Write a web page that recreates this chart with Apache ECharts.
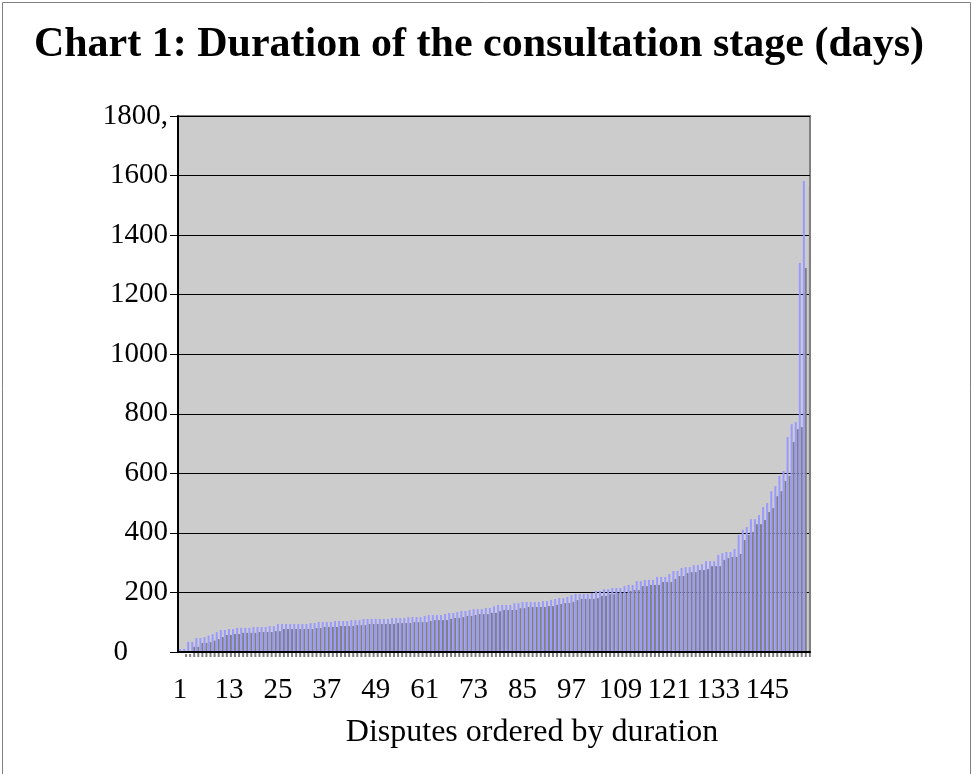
<!DOCTYPE html>
<html>
<head>
<meta charset="utf-8">
<title>Duration of the consultation stage</title>
<script src="https://cdn.jsdelivr.net/npm/echarts@6/dist/echarts.min.js"></script>
<style>
  html, body { margin: 0; padding: 0; background: #fff; }
  #chart { width: 974px; height: 774px; }
</style>
</head>
<body>
<div id="chart"></div>
<script>
const FONT = "'Liberation Serif','Times New Roman',serif";

// one slot per dispute on the axis; the last slot carries no bar
const disputeCount = 155;
const categories = Array.from({ length: disputeCount }, (_, i) => String(i + 1));

// consultation stage length in days, disputes sorted by duration
const durations = [
  10, 10, 34, 34, 47, 47, 50, 55, 60, 67,
  74, 74, 77, 77, 81, 81, 81, 81, 84, 84,
  84, 84, 87, 87, 94, 94, 94, 94, 94, 94,
  94, 94, 97, 97, 101, 101, 101, 101, 104, 104,
  104, 104, 107, 107, 107, 111, 111, 111, 111, 111,
  111, 111, 114, 114, 114, 114, 117, 117, 117, 117,
  121, 124, 124, 124, 124, 128, 131, 131, 134, 138,
  138, 141, 144, 144, 144, 148, 148, 154, 158, 158,
  158, 158, 164, 164, 168, 168, 168, 168, 168, 171,
  171, 175, 178, 181, 181, 185, 191, 195, 195, 195,
  195, 198, 205, 205, 211, 211, 215, 215, 215, 222,
  225, 225, 238, 238, 242, 242, 242, 252, 252, 252,
  262, 272, 272, 282, 285, 285, 292, 292, 295, 305,
  305, 305, 326, 332, 336, 336, 346, 393, 410, 420,
  446, 446, 460, 487, 500, 540, 557, 591, 608, 722,
  765, 772, 1306, 1582
];

const yTicks = { min: 0, max: 1800, step: 200 };

const chart = echarts.init(document.getElementById('chart'));

chart.setOption({
  animation: false,
  textStyle: { fontFamily: FONT, color: '#000' },
  title: [
    {
      text: 'Chart 1: Duration of the consultation stage (days)',
      left: 474, top: 19, textAlign: 'center',
      textStyle: { fontFamily: FONT, fontSize: 42, fontWeight: 'bold', color: '#000' }
    },
    {
      text: 'Disputes ordered by duration',
      left: 527, top: 712, textAlign: 'center',
      textStyle: { fontFamily: FONT, fontSize: 32, fontWeight: 'normal', color: '#000' }
    }
  ],
  graphic: [
    {
      type: 'rect', silent: true, z: -10,
      shape: { x: 2.5, y: 2.5, width: 968, height: 800 },
      style: { fill: 'none', stroke: '#808080', lineWidth: 1 }
    }
  ],
  grid: {
    left: 178, right: 164, top: 116, bottom: 122,
    show: true, backgroundColor: '#cccccc',
    borderColor: '#808080', borderWidth: 2
  },
  xAxis: {
    type: 'category',
    data: categories,
    z: 3,
    axisLine: { lineStyle: { color: '#000', width: 2 } },
    axisTick: {
      interval: 0, length: 8,
      lineStyle: { color: '#000', width: 1, shadowColor: '#808080', shadowOffsetX: 2, shadowBlur: 0 }
    },
    axisLabel: {
      interval: 11, margin: 24,
      fontFamily: FONT, fontSize: 29, color: '#000'
    },
    splitLine: { show: false }
  },
  yAxis: {
    type: 'value',
    min: yTicks.min, max: yTicks.max, interval: yTicks.step,
    z: 1,
    axisLine: { show: true, lineStyle: { color: '#000', width: 2 } },
    axisTick: { show: true, length: 8, lineStyle: { color: '#000', width: 1 } },
    axisLabel: {
      margin: 10, fontFamily: FONT, fontSize: 29, color: '#000',
      formatter: v => v === 0 ? '{zero|0}' : (v === 1800 ? '1800,' : String(v)),
      rich: { zero: { fontFamily: FONT, fontSize: 29, color: '#000', padding: [0, 40, 0, 0] } }
    },
    splitLine: { lineStyle: { color: '#000', width: 1 } }
  },
  series: [
    {
      name: 'duration',
      type: 'bar',
      data: durations,
      barWidth: 2,
      clip: false,
      z: 2,
      itemStyle: {
        color: '#9999ff',
        shadowColor: '#808080',
        shadowBlur: 0,
        shadowOffsetX: 6,
        shadowOffsetY: 5
      },
      emphasis: { disabled: true }
    }
  ]
});
</script>
</body>
</html>
